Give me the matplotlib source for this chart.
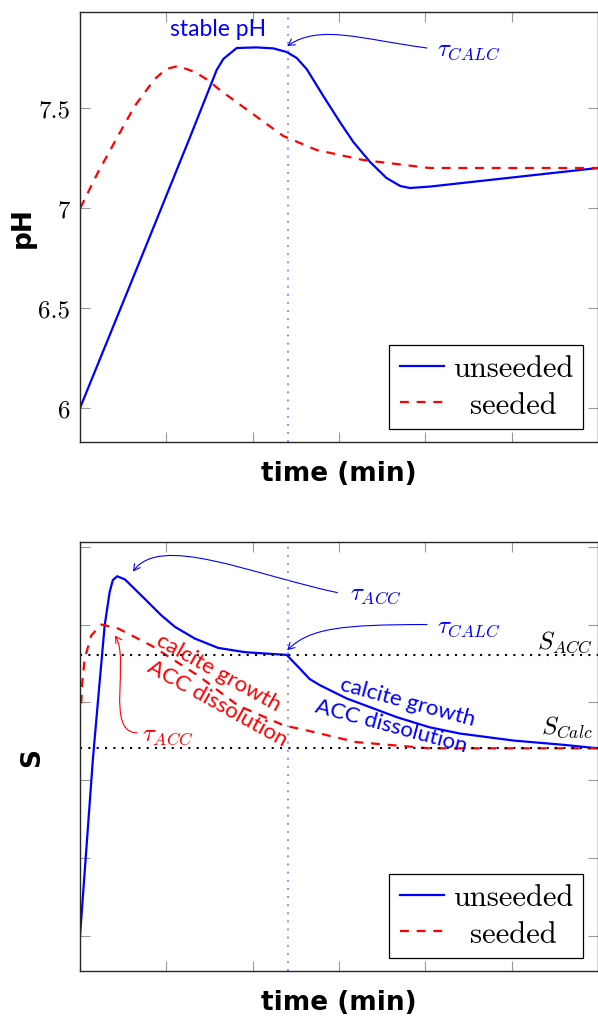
import matplotlib
matplotlib.use('Agg')
import matplotlib.pyplot as plt
from matplotlib.path import Path
from matplotlib.patches import FancyArrowPatch
from matplotlib.transforms import Affine2D

plt.rcParams['mathtext.fontset'] = 'cm'

# ---------------- data ----------------
# top panel: pH vs time
t_ph_unseeded = [0, 0.75, 1.274, 1.583, 1.66, 1.815, 2.047, 2.24, 2.394, 2.51, 2.625,
                 2.818, 3.01, 3.166, 3.36, 3.55, 3.71, 3.82, 4.05, 6.0]
ph_unseeded = [6.0, 6.795, 7.354, 7.69, 7.745, 7.80, 7.803, 7.798, 7.78, 7.75, 7.695,
               7.56, 7.43, 7.33, 7.23, 7.15, 7.11, 7.10, 7.107, 7.20]
t_ph_seeded = [0, 0.015, 0.21, 0.44, 0.634, 0.865, 1.0, 1.135, 1.33, 1.48, 1.62, 1.97, 2.355,
               2.74, 3.28, 4.05, 6.0]
ph_seeded = [7.0, 7.01, 7.18, 7.36, 7.51, 7.645, 7.695, 7.71, 7.68, 7.64, 7.59, 7.48, 7.36,
             7.29, 7.24, 7.20, 7.20]

# bottom panel: supersaturation S vs time
t_s_unseeded = [0, 0.15, 0.217, 0.286, 0.344, 0.38, 0.43, 0.52, 0.75, 0.94, 1.10, 1.33, 1.60,
                1.91, 2.394, 2.55, 2.66, 2.78, 3.09, 3.67, 4.05, 4.40, 5.02, 5.6, 6.0]
s_unseeded = [0, 2.28, 3.13, 3.99, 4.42, 4.57, 4.62, 4.58, 4.33, 4.12, 3.97, 3.82, 3.70,
              3.645, 3.61, 3.43, 3.30, 3.22, 3.05, 2.81, 2.68, 2.60, 2.51, 2.455, 2.41]
t_s_seeded = [0, 0.015, 0.023, 0.054, 0.131, 0.247, 0.44, 0.826, 1.367, 1.83, 2.37, 2.55,
              3.2, 4.05, 6.0]
s_seeded = [3.0, 3.0, 3.22, 3.56, 3.86, 4.0, 3.95, 3.73, 3.345, 2.96, 2.70, 2.66,
            2.49, 2.41, 2.41]

S_ACC = 3.61
S_CALC = 2.41
t_calc = 2.41

xticks = [0, 1, 2, 3, 4, 5, 6]
ph_ticks = [6, 6.5, 7, 7.5]
ph_ticklabels = ['6', '6.5', '7', '7.5']
s_ticks = [0, 1, 2, 3, 4, 5]
series_labels = ['unseeded', 'seeded']

BLUE = '#0000ff'
RED = '#ff0000'
DOTBLUE = '#8080ff'
SANS = 'Lato'

fig = plt.figure(figsize=(5.98, 10.2), dpi=100)
W, H = 598.0, 1020.0
ax1 = fig.add_axes([80 / W, 1 - 443 / H, 518 / W, 430 / H])
ax2 = fig.add_axes([80 / W, 1 - 972 / H, 518 / W, 429 / H])


def style_axes(ax):
    ax.set_xlim(0, 6)
    ax.set_xticks(xticks)
    ax.set_xticklabels([])
    ax.tick_params(direction='in', length=7, width=0.8, color='0.6',
                   top=True, right=True, pad=7)
    for sp in ax.spines.values():
        sp.set_linewidth(1.0)
        sp.set_color('0.15')
    ax.set_xlabel('time (min)', fontsize=19, fontweight='bold',
                  family='DejaVu Sans', labelpad=6)


def curved_arrow(ax, pts, color):
    path = Path(pts, [Path.MOVETO, Path.CURVE4, Path.CURVE4, Path.CURVE4])
    arr = FancyArrowPatch(path=path, arrowstyle='->,head_length=0.45,head_width=0.25',
                          mutation_scale=10, color=color, lw=0.8)
    ax.add_patch(arr)


def add_legend(ax):
    leg = ax.legend(loc='lower right', bbox_to_anchor=(0.972, 0.03),
                    prop={'family': 'cmr10', 'size': 22}, frameon=True,
                    fancybox=False, edgecolor='black', framealpha=1,
                    handlelength=1.45, handletextpad=0.3, labelspacing=0.3,
                    borderpad=0.33, borderaxespad=0)
    leg.get_frame().set_linewidth(0.9)
    return leg


# ---------------- top panel ----------------
style_axes(ax1)
ax1.set_ylim(5.83, 7.98)
ax1.set_yticks(ph_ticks)
ax1.set_yticklabels(ph_ticklabels, fontfamily='cmr10', fontsize=18)
ax1.set_ylabel('pH', fontsize=19, fontweight='bold', family='DejaVu Sans', labelpad=2)
ax1.plot(t_ph_unseeded, ph_unseeded, color=BLUE, lw=1.6, label=series_labels[0])
ax1.plot(t_ph_seeded, ph_seeded, color=RED, lw=1.6, ls=(0, (4, 3.5)), label=series_labels[1])
ax1.axvline(t_calc, color=DOTBLUE, lw=1.3, ls=(0, (1, 3.5)))
ax1.text(1.60, 7.9, 'stable pH', color=BLUE, fontsize=16.5, family=SANS,
         ha='center', va='center')
ax1.text(4.14, 7.795, r'$\tau_{CALC}$', color=BLUE, fontsize=18, ha='left', va='center')
curved_arrow(ax1, [(4.02, 7.80), (3.24, 7.845), (2.78, 7.92), (2.40, 7.81)], BLUE)
leg1 = add_legend(ax1)

# ---------------- bottom panel ----------------
style_axes(ax2)
ax2.set_ylim(-0.45, 5.06)
ax2.set_yticks(s_ticks)
ax2.set_yticklabels([])
ax2.set_ylabel('S', fontsize=19, fontweight='bold', family='DejaVu Sans', labelpad=18)
ax2.plot(t_s_unseeded, s_unseeded, color=BLUE, lw=1.6, label=series_labels[0])
ax2.plot(t_s_seeded, s_seeded, color=RED, lw=1.6, ls=(0, (4, 3.5)), label=series_labels[1])
ax2.axvline(t_calc, color=DOTBLUE, lw=1.3, ls=(0, (1, 3.5)))
ax2.axhline(S_ACC, color='black', lw=1.5, ls=(0, (1, 3)))
ax2.axhline(S_CALC, color='black', lw=1.5, ls=(0, (1, 3)))
ax2.text(5.94, 3.79, r'$S_{ACC}$', color='black', fontsize=18, ha='right', va='center')
ax2.text(5.94, 2.70, r'$S_{Calc}$', color='black', fontsize=18, ha='right', va='center')

ax2.text(3.13, 4.40, r'$\tau_{ACC}$', color=BLUE, fontsize=18, ha='left', va='center')
curved_arrow(ax2, [(2.98, 4.41), (1.97, 4.65), (0.93, 5.17), (0.614, 4.68)], BLUE)
ax2.text(4.14, 3.98, r'$\tau_{CALC}$', color=BLUE, fontsize=18, ha='left', va='center')
curved_arrow(ax2, [(4.02, 4.00), (3.01, 4.00), (2.66, 3.95), (2.40, 3.67)], BLUE)
ax2.text(0.72, 2.60, r'$\tau_{ACC}$', color=RED, fontsize=18, ha='left', va='center')
curved_arrow(ax2, [(0.66, 2.61), (0.29, 2.61), (0.58, 3.55), (0.405, 3.86)], RED)

ax2.text(3.80, 3.01, 'calcite growth', color=BLUE, fontsize=16, family=SANS,
         rotation=-15, rotation_mode='anchor', ha='center', va='center')
ax2.text(3.60, 2.70, 'ACC dissolution', color=BLUE, fontsize=16, family=SANS,
         rotation=-15, rotation_mode='anchor', ha='center', va='center')
ax2.text(1.60, 3.39, 'calcite growth', color=RED, fontsize=16, family=SANS,
         rotation=-29, rotation_mode='anchor', ha='center', va='center')
ax2.text(1.59, 3.00, 'ACC dissolution', color=RED, fontsize=16, family=SANS,
         rotation=-29, rotation_mode='anchor', ha='center', va='center')
leg2 = add_legend(ax2)

# center legend labels like pgfplots
fig.canvas.draw()
renderer = fig.canvas.get_renderer()
for leg in (leg1, leg2):
    texts = leg.get_texts()
    widths = [t.get_window_extent(renderer).width for t in texts]
    maxw = max(widths)
    for t, w in zip(texts, widths):
        t.set_transform(t.get_transform() + Affine2D().translate((maxw - w) / 2, 0))

fig.savefig('out.png', dpi=100)
